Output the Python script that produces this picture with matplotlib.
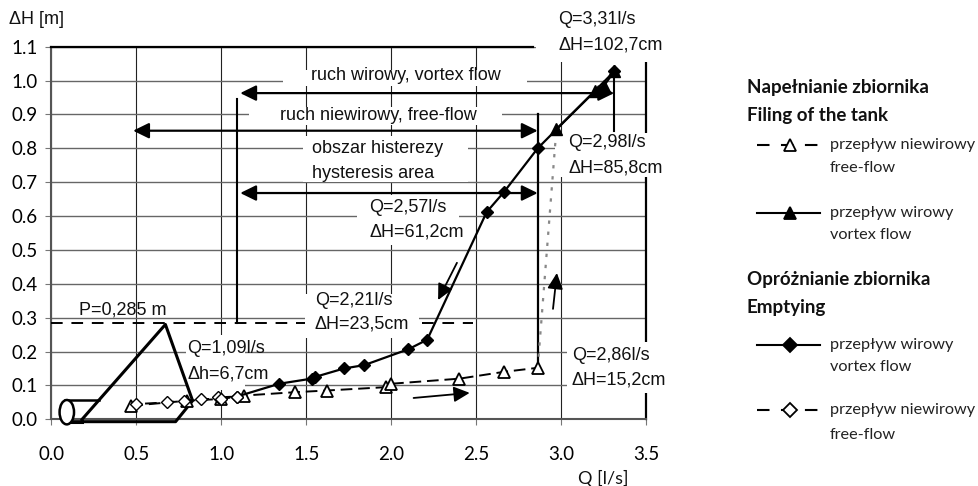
import matplotlib
matplotlib.use('Agg')
import matplotlib.pyplot as plt
from matplotlib.lines import Line2D
from matplotlib.patches import Ellipse, Rectangle

# filling, free flow
fill_free_q = [0.47, 0.80, 1.00, 1.13, 1.43, 1.62, 1.97, 2.00, 2.40, 2.66, 2.86]
fill_free_h = [0.040, 0.055, 0.060, 0.070, 0.080, 0.085, 0.095, 0.105, 0.120, 0.140, 0.152]
# filling, vortex flow
fill_vortex_q = [2.97, 3.20, 3.25, 3.31]
fill_vortex_h = [0.857, 0.970, 0.985, 1.027]
# jump between the two filling branches
jump_q = [2.86, 2.97]
jump_h = [0.152, 0.857]
# emptying, vortex flow
empty_vortex_q = [3.31, 2.86, 2.66, 2.56, 2.21, 2.10, 1.84, 1.72, 1.55, 1.53, 1.34, 1.09]
empty_vortex_h = [1.027, 0.800, 0.670, 0.612, 0.235, 0.207, 0.160, 0.150, 0.125, 0.120, 0.105, 0.067]
# emptying, free flow
empty_free_q = [1.09, 0.98, 1.00, 0.88, 0.78, 0.68, 0.50]
empty_free_h = [0.067, 0.065, 0.060, 0.060, 0.055, 0.050, 0.045]

# weir sketch
weir_q = [0.18, 0.67, 0.83, 0.73, 0.12]
weir_h = [0.0, 0.28, 0.055, -0.007, -0.007]
pipe_q = [0.08, 0.28]
pipe_h = [0.056, 0.056]

xticks = [0.0, 0.5, 1.0, 1.5, 2.0, 2.5, 3.0, 3.5]
yticks = [0.0, 0.1, 0.2, 0.3, 0.4, 0.5, 0.6, 0.7, 0.8, 0.9, 1.0, 1.1]

W, H = 979, 486
plt.rcParams['font.family'] = ['Liberation Sans', 'DejaVu Sans']
plt.rcParams['font.size'] = 13
legend_font = ['Lato', 'DejaVu Sans']

fig = plt.figure(figsize=(W / 100, H / 100), dpi=100)
ax = fig.add_axes([51.5 / W, (H - 419.3) / H, 595 / W, 372.6 / H])
ax.set_xlim(0, 3.5)
ax.set_ylim(0, 1.1)
ax.set_xticks(xticks)
ax.set_yticks(yticks)
ax.set_xticklabels(['%.1f' % v for v in xticks], family=legend_font, fontsize=13.5)
ax.set_yticklabels(['%.1f' % v for v in yticks], family=legend_font, fontsize=13.5)
ax.tick_params(axis='x', length=4, width=0.8, color='#777777', pad=15)
ax.tick_params(axis='y', length=4, width=0.8, color='#777777', pad=6)
ax.grid(True, axis='x', color='#222222', lw=0.8)
ax.grid(True, axis='y', color='#666666', lw=1.0)
ax.set_axisbelow(True)
for s in ['left', 'bottom']:
    ax.spines[s].set_linewidth(1.5)
    ax.spines[s].set_color('#555555')
ax.spines['top'].set_linewidth(1.6)
ax.spines['top'].set_color('black')
ax.spines['top'].set_bounds(0, 2.83)
ax.spines['right'].set_linewidth(1.6)
ax.spines['right'].set_color('black')


def label(x, y, s, ha='left'):
    ax.text(x, y, s, ha=ha, va='center', fontsize=13, zorder=3, color='#111111')


def blank(q0, q1, h0, h1):
    # white area that breaks the grid behind a label
    ax.add_patch(Rectangle((q0, h0), q1 - q0, h1 - h0, fc='white', ec='none', zorder=2.8, clip_on=False))


def arrow(x0, y0, x1, y1, style='-|>', lw=1.6):
    ax.annotate('', xy=(x1, y1), xytext=(x0, y0), zorder=5,
                arrowprops=dict(arrowstyle=style + ',head_length=0.96,head_width=0.47', mutation_scale=10,
                                color='black', lw=lw, shrinkA=0, shrinkB=0))


blank(1.36, 2.80, 0.985, 1.032)
blank(1.16, 2.65, 0.870, 0.923)
blank(1.48, 2.45, 0.700, 0.835)
blank(1.80, 2.40, 0.515, 0.662)
blank(1.49, 2.16, 0.240, 0.370)
blank(0.79, 1.14, 0.087, 0.250)
blank(3.03, 3.53, 0.078, 0.228)
blank(2.96, 3.53, 0.716, 0.846)
blank(2.85, 3.53, 1.056, 1.125)

label(2.085, 1.014, 'ruch wirowy, vortex flow', ha='center')
label(1.925, 0.896, 'ruch niewirowy, free-flow', ha='center')
label(1.53, 0.80, 'obszar histerezy')
label(1.53, 0.727, 'hysteresis area')
label(1.87, 0.624, 'Q=2,57l/s')
label(1.87, 0.553, '\u0394H=61,2cm')
label(1.55, 0.352, 'Q=2,21l/s')
label(1.55, 0.281, '\u0394H=23,5cm')
label(0.80, 0.208, 'Q=1,09l/s')
label(0.80, 0.134, '\u0394h=6,7cm')
label(3.06, 0.187, 'Q=2,86l/s')
label(3.06, 0.116, '\u0394H=15,2cm')
label(3.04, 0.816, 'Q=2,98l/s')
label(3.04, 0.742, '\u0394H=85,8cm')
label(2.98, 1.18, 'Q=3,31l/s')
label(2.98, 1.106, '\u0394H=102,7cm')
label(0.16, 0.323, 'P=0,285 m')
ax.text(-0.25, 1.18, '\u0394H [m]', ha='left', va='center', fontsize=13, color='#111111')
ax.text(3.1, -0.175, 'Q [l/s]', ha='left', va='center', fontsize=13, family=legend_font, color='#111111')

# P level and guide lines
ax.plot([0, 1.49], [0.285, 0.285], color='black', lw=1.4, dashes=(6, 4.5), zorder=4)
ax.plot([2.18, 2.48], [0.285, 0.285], color='black', lw=1.4, dashes=(6, 4.5), zorder=4)
ax.plot([1.09, 1.09], [0.285, 0.946], color='black', lw=1.5, zorder=4)
ax.plot([2.86, 2.86], [0.152, 0.90], color='black', lw=1.6, zorder=4)
ax.plot([3.31, 3.31], [0.85, 1.027], color='black', lw=1.5, zorder=4)
arrow(1.11, 0.963, 3.31, 0.963, '<|-|>')
arrow(0.48, 0.852, 2.86, 0.852, '<|-|>')
arrow(1.11, 0.668, 2.86, 0.668, '<|-|>')

# direction arrows
arrow(2.385, 0.462, 2.274, 0.352, lw=1.3)
arrow(2.95, 0.326, 2.973, 0.432, lw=1.3)
arrow(2.13, 0.063, 2.46, 0.078, lw=1.3)

# weir sketch
ax.plot(weir_q, weir_h, color='black', lw=2.2, zorder=4, clip_on=False)
ax.plot(pipe_q, pipe_h, color='black', lw=1.8, zorder=4)
ax.plot([0.08, 0.18], [-0.007, -0.007], color='black', lw=2.2, zorder=4, clip_on=False)
ax.add_patch(Ellipse((0.09, 0.021), 0.085, 0.072, fc='white', ec='black', lw=1.8, zorder=4.5, clip_on=False))

# series
ax.plot(jump_q, jump_h, color='#888888', lw=1.6, dashes=(1.5, 3.5), zorder=6)
ax.plot(fill_free_q, fill_free_h, color='black', lw=1.4, dashes=(6, 3), marker='^', ms=8.5, mfc='white',
        mec='black', mew=1.3, zorder=6)
ax.plot(fill_vortex_q, fill_vortex_h, color='black', lw=1.6, marker='^', ms=8.5, mfc='black', mec='black', zorder=6)
ax.plot(empty_vortex_q, empty_vortex_h, color='black', lw=1.6, marker='D', ms=6, mfc='black', mec='black', zorder=7)
ax.plot(empty_free_q, empty_free_h, color='black', lw=1.4, dashes=(6, 3), marker='D', ms=6, mfc='white',
        mec='black', mew=1.0, zorder=7)


# legend, drawn by hand on the figure
def fx(px):
    return px / W


def fy(py):
    return (H - py) / H


def head(y, s):
    fig.text(fx(747), fy(y), s, fontsize=13.5, fontweight='bold', family=legend_font, va='center', color='#111111')


def entry(y1, y2, s1, s2, marker, filled, dashed):
    ls = (0, (6, 5.5)) if dashed else '-'
    fig.add_artist(Line2D([fx(757), fx(820)], [fy(y1), fy(y1)], color='black', lw=1.5, ls=ls,
                          transform=fig.transFigure))
    fig.add_artist(Line2D([fx(790)], [fy(y1)], marker=marker, ms=9 if marker == '^' else 7,
                          mfc='black' if filled else 'white', mec='black', mew=1.3,
                          transform=fig.transFigure, ls='none'))
    fig.text(fx(830), fy(y1), s1, fontsize=11.7, family=legend_font, va='center', color='#222222')
    fig.text(fx(830), fy(y2), s2, fontsize=11.7, family=legend_font, va='center', color='#222222')


head(88, 'Napełnianie zbiornika')
head(115, 'Filing of the tank')
entry(145, 168, 'przepływ niewirowy', 'free-flow', '^', False, True)
entry(213, 235, 'przepływ wirowy', 'vortex flow', '^', True, False)
head(279, 'Opróżnianie zbiornika')
head(307, 'Emptying')
entry(345, 367, 'przepływ wirowy', 'vortex flow', 'D', True, False)
entry(410, 435, 'przepływ niewirowy', 'free-flow', 'D', False, True)

fig.savefig('out.png', dpi=100)
